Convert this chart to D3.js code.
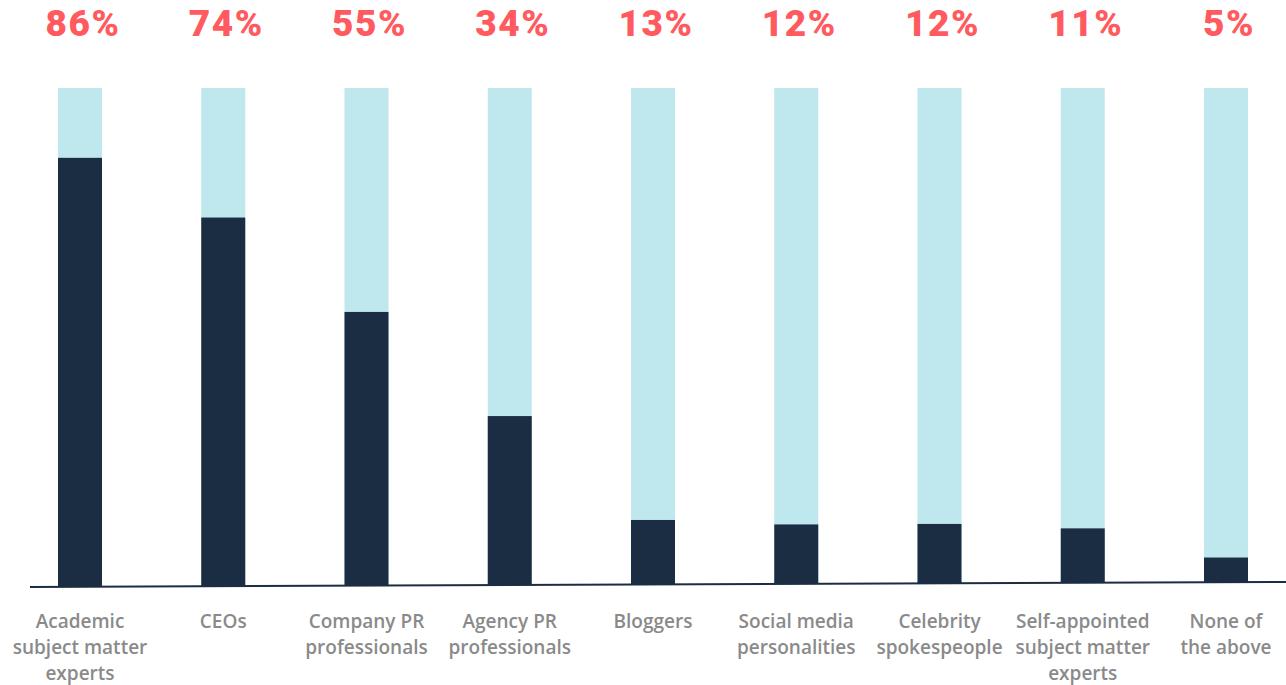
<!DOCTYPE html>
<html>
<head>
<meta charset="utf-8">
<style>
  html, body { margin: 0; padding: 0; background: #fff; }
  svg { display: block; }
</style>
</head>
<body>
<svg id="chart"></svg>
<script src="https://cdnjs.cloudflare.com/ajax/libs/d3/7.8.5/d3.min.js"></script>
<script>

  // data
  var categories = [
    ["Academic", "subject matter", "experts"],
    ["CEOs"],
    ["Company PR", "professionals"],
    ["Agency PR", "professionals"],
    ["Bloggers"],
    ["Social media", "personalities"],
    ["Celebrity", "spokespeople"],
    ["Self-appointed", "subject matter", "experts"],
    ["None of", "the above"]
  ];
  var values = [86, 74, 55, 34, 13, 12, 12, 11, 5];

  var width    = 1286,
      height   = 685,
      barWidth = 44,
      barTop   = 88,
      navy     = "#1b2d42",
      pale     = "#bfe7ee",
      red      = "#ff5a5f",
      grey     = "#8a8a8a";

  var svg = d3.select("#chart")
              .attr("width", width)
              .attr("height", height);

  // point scale for the bar centres
  var x = d3.scalePoint()
            .domain(d3.range(values.length))
            .range([80, 1226]);

  // the base line leans a little, up to the right
  var baseY = d3.scaleLinear().domain([30, 1286]).range([587, 582]);

  var g = svg.append("g");

  // pale full-height bars
  g.selectAll("rect.bg")
    .data(values)
    .enter().append("rect")
      .attr("class", "bg")
      .attr("x", function(d, i) { return x(i) - barWidth / 2; })
      .attr("y", barTop)
      .attr("width", barWidth)
      .attr("height", function(d, i) { return baseY(x(i)) - barTop; })
      .style("fill", pale);

  // dark value bars
  g.selectAll("rect.val")
    .data(values)
    .enter().append("rect")
      .attr("class", "val")
      .attr("x", function(d, i) { return x(i) - barWidth / 2; })
      .attr("y", function(d, i) {
        var y = d3.scaleLinear().domain([0, 100]).range([baseY(x(i)), barTop]);
        return y(d);
      })
      .attr("width", barWidth)
      .attr("height", function(d, i) {
        return (baseY(x(i)) - barTop) * d / 100;
      })
      .style("fill", navy);

  // base line
  svg.append("line")
    .attr("x1", 30).attr("y1", baseY(30))
    .attr("x2", 1286).attr("y2", baseY(1286))
    .style("stroke", navy)
    .style("stroke-width", 2);

  // percentage labels on top
  svg.selectAll("text.pct")
    .data(values)
    .enter().append("text")
      .attr("class", "pct")
      .attr("x", function(d, i) { return x(i) + 3; })
      .attr("y", 36)
      .attr("text-anchor", "middle")
      .style("font-family", "Roboto, 'Liberation Sans', sans-serif")
      .style("font-weight", 900)
      .style("font-size", "37px")
      .style("letter-spacing", "1.5px")
      .style("fill", red)
      .text(function(d) { return d + "%"; });

  // category labels
  var cat = svg.selectAll("text.cat")
    .data(categories)
    .enter().append("text")
      .attr("class", "cat")
      .attr("text-anchor", "middle")
      .style("font-family", "'Open Sans', Lato, sans-serif")
      .style("font-weight", 600)
      .style("font-size", "19px")
      .style("fill", grey);

  cat.each(function(lines, i) {
    d3.select(this).selectAll("tspan")
      .data(lines)
      .enter().append("tspan")
        .attr("x", x(i))
        .attr("y", function(d, j) { return 628 + j * 26; })
        .text(String);
  });

</script>
</body>
</html>
